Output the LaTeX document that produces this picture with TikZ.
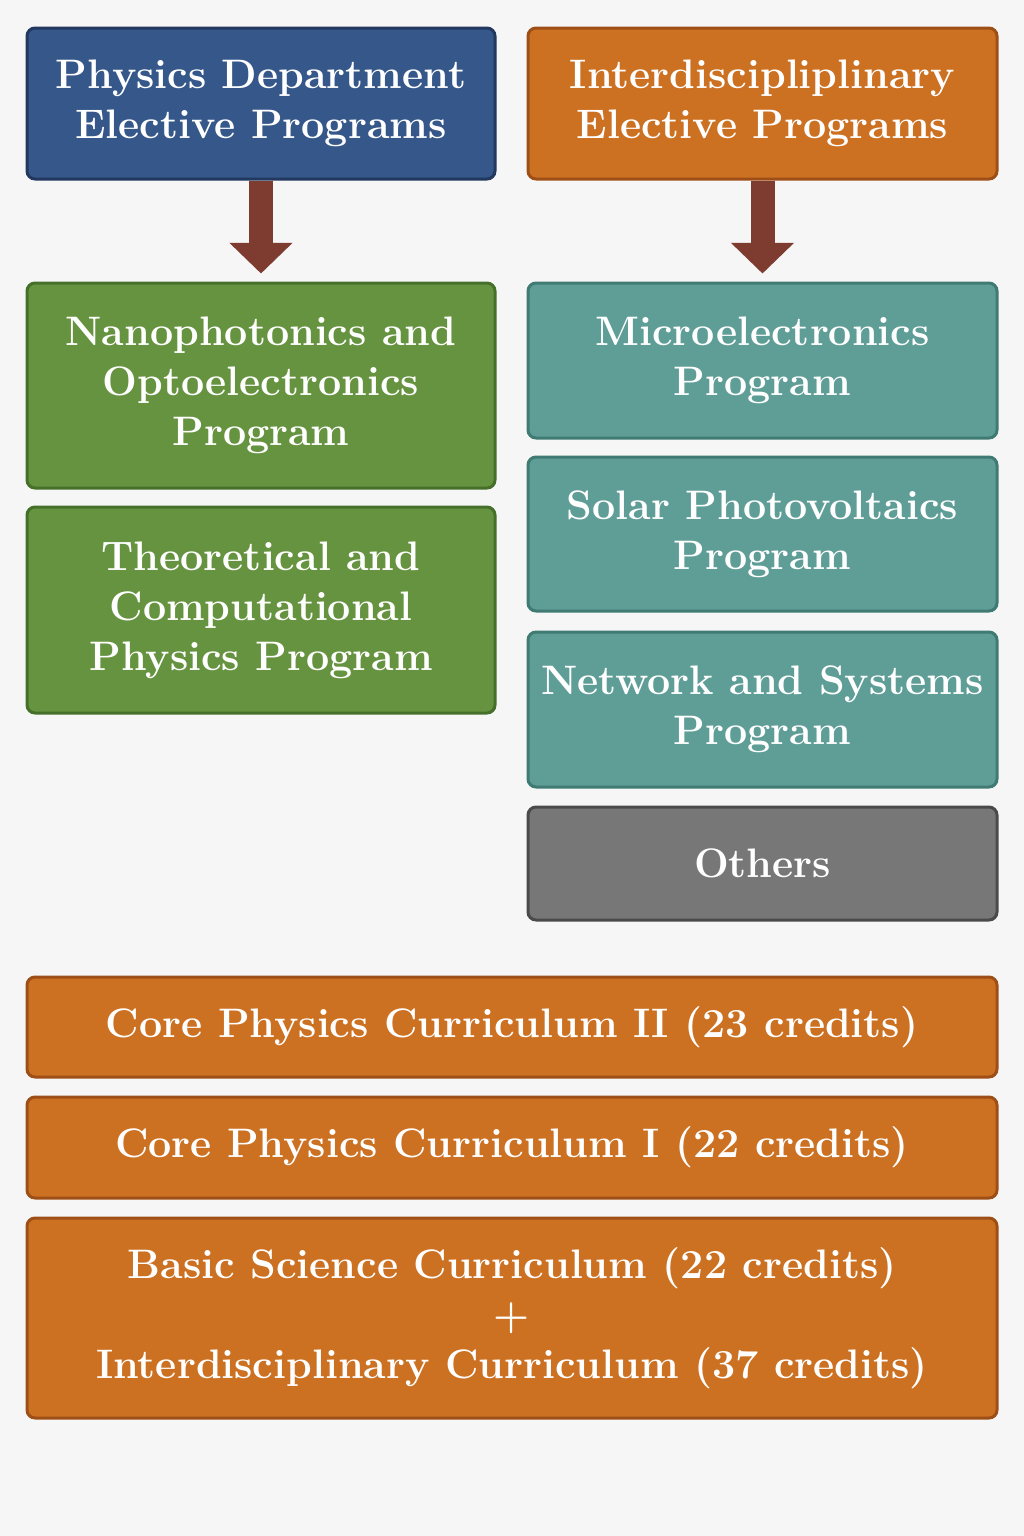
\documentclass[tikz,border=0pt]{standalone}
\usetikzlibrary{arrows.meta}
\definecolor{bgc}{HTML}{F6F6F6}
\definecolor{bluef}{HTML}{35578A}
\definecolor{blued}{HTML}{22385F}
\definecolor{orangef}{HTML}{CC7022}
\definecolor{oranged}{HTML}{9E4F17}
\definecolor{greenf}{HTML}{66933F}
\definecolor{greend}{HTML}{46702A}
\definecolor{tealf}{HTML}{5F9E97}
\definecolor{teald}{HTML}{3F7A73}
\definecolor{greyf}{HTML}{777777}
\definecolor{greyd}{HTML}{4A4A4A}
\definecolor{arrowc}{HTML}{7E3B30}
\tikzset{
  box/.style={rounded corners=6pt, line width=2.25pt, text=white, align=center,
    inner sep=0pt, font=\fontsize{30.9}{37.5}\selectfont\bfseries},
  sz/.style 2 args={minimum width=#1*0.75pt, minimum height=#2*0.75pt},
  bluebox/.style={box, fill=bluef, draw=blued},
  orangebox/.style={box, fill=orangef, draw=oranged},
  greenbox/.style={box, fill=greenf, draw=greend},
  tealbox/.style={box, fill=tealf, draw=teald},
  greybox/.style={box, fill=greyf, draw=greyd},
  bigarrow/.style={draw=arrowc, line width=18pt, -{Triangle[width=46pt,length=23pt]}, shorten >=6pt}
}
\begin{document}
\begin{tikzpicture}[x=0.75pt,y=-0.75pt]
\useasboundingbox[fill=bgc] (0,0) rectangle (1024,1536);
% top headers
\node[bluebox, sz={468}{151}] (pd) at (261,103.5) {Physics Department\\Elective Programs};
\node[orangebox, sz={469}{151}] (ip) at (762.5,103.5) {Interdiscipliplinary\\Elective Programs};
% left programs
\node[greenbox, sz={468}{205}] (nano) at (261,385.5) {Nanophotonics and\\Optoelectronics\\Program};
\node[greenbox, sz={468}{206}] (theo) at (261,610) {Theoretical and\\Computational\\Physics Program};
% right programs
\node[tealbox, sz={469}{155}] (micro) at (762.5,360.5) {Microelectronics\\Program};
\node[tealbox, sz={469}{154}] (solar) at (762.5,534) {Solar Photovoltaics\\Program};
\node[tealbox, sz={469}{155}] (net) at (762.5,709.5) {Network and Systems\\Program};
\node[greybox, sz={469}{113}] (oth) at (762.5,863.5) {Others};
% arrows
\draw[bigarrow] (pd.south) -- (nano.north);
\draw[bigarrow] (ip.south) -- (micro.north);
% curricula
\node[orangebox, sz={970}{100}] (c2) at (512,1027) {Core Physics Curriculum II (23 credits)};
\node[orangebox, sz={970}{101}] (c1) at (512,1147.5) {Core Physics Curriculum I (22 credits)};
\node[orangebox, sz={970}{200}] (bs) at (512,1318) {Basic Science Curriculum (22 credits)\\+\\Interdisciplinary Curriculum (37 credits)};
\end{tikzpicture}
\end{document}
